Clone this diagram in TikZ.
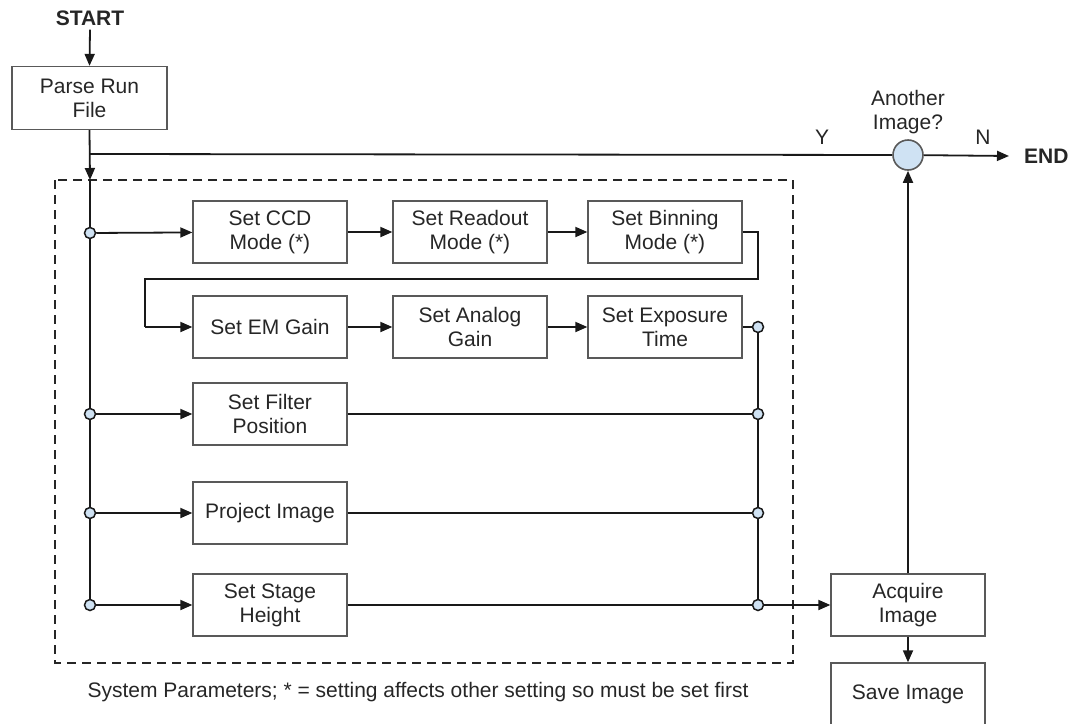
\documentclass[tikz,border=0pt]{standalone}
\usepackage{fontspec}
\setmainfont{Liberation Sans}
\usetikzlibrary{arrows.meta}
\definecolor{cfill}{HTML}{CFE2F3}
\definecolor{bord}{HTML}{595959}
\definecolor{txt}{HTML}{262626}
\begin{document}
\begin{tikzpicture}[x=1pt,y=-1pt,
  font=\fontsize{21}{24}\selectfont,
  every node/.style={text=txt},
  box/.style={draw=bord, line width=1.3pt, fill=white, minimum width=154pt, minimum height=62pt, align=center, inner sep=2pt},
  conn/.style={draw=black!90, line width=1.8pt},
  arr/.style={conn, -{Triangle[length=12pt,width=10pt]}},
  dot/.style={circle, draw=black!90, line width=1.5pt, fill=cfill, minimum size=11pt, inner sep=0pt},
  lbl/.style={inner sep=0pt, align=center}
]
\useasboundingbox (0,0) rectangle (1079,723);

% group frame
\draw[line width=1.6pt, dash pattern=on 9pt off 6pt, black!85] (55,180) rectangle (793,663);

% nodes
\node[lbl, font=\fontsize{21}{24}\selectfont\bfseries] (start) at (90,18) {START};
\node[box, minimum width=155pt, minimum height=63pt] (parse) at (89.5,98) {Parse Run\\File};

\node[box] (ccd) at (270,232) {Set CCD\\Mode (*)};
\node[box] (read) at (470,232) {Set Readout\\Mode (*)};
\node[box] (bin) at (665,232) {Set Binning\\Mode (*)};
\node[box] (em) at (270,327) {Set EM Gain};
\node[box] (ana) at (470,327) {Set Analog\\Gain};
\node[box] (exp) at (665,327) {Set Exposure\\Time};
\node[box] (filt) at (270,414) {Set Filter\\Position};
\node[box] (proj) at (270,513) {Project Image};
\node[box] (stage) at (270,605) {Set Stage\\Height};
\node[box] (acq) at (908,605) {Acquire\\Image};
\node[box] (save) at (908,694) {Save Image};

\node[circle, draw=bord, line width=1.6pt, fill=cfill, minimum size=30pt, inner sep=0pt] (dec) at (908,155) {};
\node[lbl] (another) at (908,112) {Another\\Image?};
\node[lbl] (ylbl) at (822,137) {Y};
\node[lbl] (nlbl) at (983,137) {N};
\node[lbl, font=\fontsize{21}{24}\selectfont\bfseries, anchor=west] (endlbl) at (1024,156) {END};
\node[lbl] (caption) at (418,692) {System Parameters; * = setting affects other setting so must be set first};

% junction dots
\node[dot] (lc1) at (90,233) {};
\node[dot] (lc3) at (90,414) {};
\node[dot] (lc4) at (90,513) {};
\node[dot] (lc5) at (90,605) {};
\node[dot] (rc2) at (758,327) {};
\node[dot] (rc3) at (758,414) {};
\node[dot] (rc4) at (758,513) {};
\node[dot] (rc5) at (758,605) {};

\coordinate (ybranch) at (90,154);
\coordinate (dtop) at (90,180);
\coordinate (endtip) at (1009,156);
\coordinate (l1) at (758,232);
\coordinate (l2) at (758,279);
\coordinate (l3) at (145,279);
\coordinate (l4) at (145,327);

% connectors
\draw[arr] (start.south) ++(0,4) -- (parse.north);
\draw[arr] (parse.south) -- (dtop);
\draw[conn] (dtop) -- (lc1);
\draw[conn] (lc1) -- (lc3);
\draw[conn] (lc3) -- (lc4);
\draw[conn] (lc4) -- (lc5);
\draw[conn] (ybranch) -- (dec);
\draw[arr] (dec) -- (endtip);

\draw[arr] (lc1) -- (ccd);
\draw[arr] (ccd) -- (read);
\draw[arr] (read) -- (bin);
\draw[conn] (bin.east) -- (l1) -- (l2) -- (l3) -- (l4);
\draw[arr] (l4) -- (em.west);
\draw[arr] (em) -- (ana);
\draw[arr] (ana) -- (exp);
\draw[conn] (exp) -- (rc2);

\draw[arr] (lc3) -- (filt);
\draw[conn] (filt) -- (rc3);
\draw[arr] (lc4) -- (proj);
\draw[conn] (proj) -- (rc4);
\draw[arr] (lc5) -- (stage);
\draw[conn] (stage) -- (rc5);

\draw[conn] (rc2) -- (rc3);
\draw[conn] (rc3) -- (rc4);
\draw[conn] (rc4) -- (rc5);

\draw[arr] (rc5) -- (acq);
\draw[arr] (acq) -- (save);
\draw[arr] (acq) -- (dec);
\end{tikzpicture}
\end{document}
